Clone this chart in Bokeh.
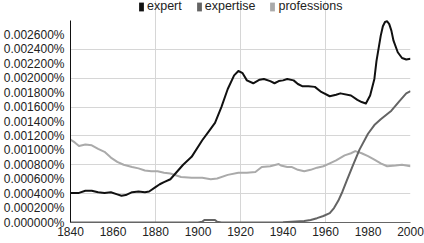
from bokeh.plotting import figure
from bokeh.models import FixedTicker, CustomJSTickFormatter, Legend, LegendItem
from bokeh.embed import file_html
from bokeh.resources import INLINE

SCALE = 1e-4  # values below are read in units of 0.0001 %

expert_years = [1840, 1844, 1847, 1850, 1853, 1856, 1859, 1862, 1864, 1866, 1869, 1872, 1875, 1877,
                1880, 1882, 1884, 1887, 1890, 1893, 1897, 1902, 1905, 1908, 1911, 1914, 1917, 1919,
                1921, 1923, 1926, 1929, 1931, 1934, 1936, 1938, 1940, 1942, 1945, 1947, 1949, 1952,
                1955, 1958, 1962, 1965, 1967, 1972, 1975, 1977, 1979, 1981, 1983, 1984, 1986, 1987,
                1988, 1989, 1990, 1991, 1992, 1994, 1996, 1998, 2000]
expert_vals = [4.1, 4.1, 4.4, 4.4, 4.2, 4.1, 4.2, 3.9, 3.7, 3.8, 4.2, 4.3, 4.2, 4.3,
               4.9, 5.3, 5.6, 6.0, 7.0, 8.0, 9.1, 11.4, 12.6, 13.8, 16.0, 18.5, 20.4, 21.0,
               20.7, 19.7, 19.3, 19.8, 19.9, 19.6, 19.3, 19.6, 19.7, 19.9, 19.7, 19.2, 18.9, 18.9,
               18.8, 18.1, 17.5, 17.7, 17.9, 17.6, 17.0, 16.7, 16.5, 17.6, 19.9, 22.4, 25.9, 27.2,
               27.8, 27.9, 27.5, 26.6, 25.2, 23.6, 22.8, 22.6, 22.7]

expertise_years = [1840, 1900, 1902, 1903, 1908, 1909, 1911, 1940, 1950, 1953, 1956, 1959, 1962,
                   1964, 1966, 1968, 1970, 1973, 1976, 1980, 1983, 1986, 1991, 1995, 1998, 2000]
expertise_vals = [0.0, 0.0, 0.1, 0.35, 0.35, 0.1, 0.0, 0.05, 0.2, 0.35, 0.6, 0.9, 1.3,
                  2.0, 3.0, 4.3, 5.8, 8.0, 10.1, 12.3, 13.5, 14.3, 15.5, 16.9, 17.9, 18.2]

professions_years = [1840, 1842, 1844, 1847, 1850, 1853, 1856, 1859, 1862, 1865, 1869, 1872, 1875,
                     1878, 1881, 1884, 1887, 1892, 1897, 1902, 1906, 1909, 1914, 1919, 1923, 1927,
                     1930, 1934, 1938, 1939, 1942, 1944, 1947, 1950, 1953, 1956, 1959, 1962, 1965,
                     1969, 1972, 1974, 1977, 1980, 1983, 1986, 1989, 1993, 1996, 2000]
professions_vals = [11.5, 11.1, 10.6, 10.8, 10.7, 10.2, 9.8, 9.0, 8.4, 8.0, 7.7, 7.5, 7.2,
                    7.1, 7.1, 6.9, 6.8, 6.3, 6.2, 6.2, 6.0, 6.1, 6.6, 6.9, 6.9, 7.0,
                    7.7, 7.8, 8.1, 7.9, 7.7, 7.7, 7.3, 7.1, 7.3, 7.6, 7.8, 8.2, 8.6,
                    9.3, 9.6, 9.9, 9.6, 9.2, 8.7, 8.2, 7.8, 7.9, 8.0, 7.8]

series_names = ["expert", "expertise", "professions"]
series_colors = ["#111111", "#646464", "#aaaaaa"]

x_ticks = [1840, 1860, 1880, 1900, 1920, 1940, 1960, 1980, 2000]
x_grid = [1880, 1920, 1960, 2000]
y_ticks = [i * 2 * SCALE for i in range(14)]
y_grid = [i * 4 * SCALE for i in range(1, 7)]
Y_TOP = 28 * SCALE

FONT = "Liberation Sans"

# frame spans the full height above the axis; the data area ends at Y_TOP,
# the strip above it holds the legend
FRAME_H = 222
DATA_H = 202
p = figure(width=424, height=243, output_backend="svg", toolbar_location=None,
           x_range=(1840, 2000), y_range=(0, Y_TOP * FRAME_H / DATA_H),
           min_border_left=69, min_border_right=14, min_border_top=0, min_border_bottom=21)
p.outline_line_color = None
p.background_fill_color = "white"

data = [(expert_years, expert_vals), (expertise_years, expertise_vals), (professions_years, professions_vals)]
for i in [2, 1, 0]:
    yrs, vals = data[i]
    p.line(yrs, [v * SCALE for v in vals], line_color=series_colors[i], line_width=2,
           line_join="round")

# legend swatches: zero-size quads on the series' own points (draw nothing in the plot)
items = []
for i, name in enumerate(series_names):
    yrs, vals = data[i]
    ys = [v * SCALE for v in vals]
    r = p.quad(left=yrs, right=yrs, top=ys, bottom=ys,
               fill_color=series_colors[i], line_color=None)
    items.append(LegendItem(label=name, renderers=[r]))

legend = Legend(items=items, orientation="horizontal", location=(68, 209),
                glyph_width=6, glyph_height=11, label_standoff=3, spacing=14,
                padding=0, margin=0, border_line_color=None, background_fill_alpha=0,
                label_text_font=FONT, label_text_font_size="12.5px", label_text_color="#222222",
                label_height=12)
p.add_layout(legend, "center")

p.xaxis.ticker = FixedTicker(ticks=x_ticks)
p.yaxis.ticker = FixedTicker(ticks=y_ticks)
p.yaxis.formatter = CustomJSTickFormatter(code="return tick.toFixed(6) + '%';")
p.yaxis.bounds = (0, Y_TOP)
p.xgrid.ticker = FixedTicker(ticks=x_grid)
p.ygrid.ticker = FixedTicker(ticks=y_grid)
p.xgrid.bounds = (0, Y_TOP)
p.xgrid.grid_line_color = "#d6d6d6"
p.ygrid.grid_line_color = "#d6d6d6"

for ax in (p.xaxis, p.yaxis):
    ax.major_tick_line_color = None
    ax.minor_tick_line_color = None
    ax.major_tick_out = 0
    ax.major_tick_in = 0
    ax.major_label_text_font = FONT
    ax.major_label_text_color = "#222222"
p.yaxis.major_label_text_font_size = "12px"
p.xaxis.major_label_text_font_size = "12px"
p.yaxis.axis_line_color = "#111111"
p.xaxis.axis_line_color = "#666666"
p.yaxis.major_label_standoff = 6
p.xaxis.major_label_standoff = 4

open("out.html", "w").write(file_html(p, INLINE))
